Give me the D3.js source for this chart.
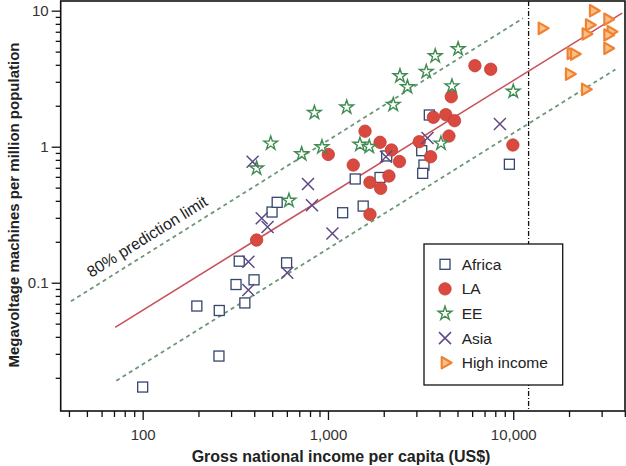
<!DOCTYPE html>
<html>
<head>
<meta charset="utf-8">
<script src="https://cdnjs.cloudflare.com/ajax/libs/d3/7.8.5/d3.min.js"></script>
<style>
  body { margin: 0; background: #fff; }
  svg { display: block; font-family: "Liberation Sans", Arial, sans-serif; }
</style>
</head>
<body>
<div id="chart"></div>
<script>
// series values: [GNI per capita (US$), machines per million]
var africa = [[100,0.0171],[196,0.0674],[258,0.0289],[259,0.0625],[319,0.097],[332,0.144],[356,0.071],
  [399,0.105],[598,0.140],[499,0.331],[532,0.390],[1200,0.327],[1549,0.366],[1403,0.579],[1910,0.594],
  [2075,0.855],[3524,1.71],[3206,0.935],[3297,0.733],[3245,0.637],[9530,0.743]];
var la = [[412,0.206],[1004,0.877],[1369,0.733],[1585,1.30],[1685,0.547],[1925,0.494],[2133,0.609],
  [1910,1.077],[2201,0.946],[2432,0.778],[1685,0.318],[3110,1.088],[3582,0.844],[3707,1.645],
  [4325,1.719],[4820,1.553],[4497,1.198],[4628,2.33],[6209,3.94],[7557,3.71],[9955,1.029]];
var ee = [[412,0.694],[491,1.059],[616,0.402],[721,0.884],[845,1.778],[928,0.995],[1262,1.949],
  [1488,1.038],[1671,1.0],[2251,2.036],[2447,3.31],[2685,2.75],[3393,3.56],[3793,4.64],[5041,5.23],
  [4668,2.79],[4074,1.059],[10000,2.55]];
var asia = [[372,0.1427],[372,0.0884],[392,0.776],[439,0.2975],[472,0.257],[603,0.1184],[780,0.532],
  [820,0.371],[1057,0.230],[2056,0.844],[3444,1.159],[8472,1.469]];
var highIncome = [[27020,10.0],[14290,7.42],[25700,7.85],[24660,6.74],[32310,8.65],[33660,7.01],
  [32310,6.63],[32310,5.29],[20470,4.86],[21330,4.80],[20050,3.42],[24470,2.64]];

var categories = ['Africa', 'LA', 'EE', 'Asia', 'High income'];

// fitted line and 80% prediction limits (end points)
var fitLine = [[71, 0.047], [38700, 9.6]];
var upperLimit = [[41, 0.073], [11300, 8.8]];
var lowerLimit = [[72, 0.019], [35600, 3.7]];
var thresholdGNI = 12100;

var xTickLabels = [100, 1000, 10000];
var yTickLabels = [0.1, 1, 10];

var W = 626, H = 466;
var plotLeft = 60.7, plotRight = 625, plotTop = 1, plotBottom = 411;

var svg = d3.select('#chart').append('svg')
  .attr('width', W)
  .attr('height', H);

var x = d3.scaleLog().domain([36.1, 40100]).range([plotLeft, plotRight]);
var y = d3.scaleLog().domain([0.0114, 11.78]).range([plotBottom, plotTop]);

var line = d3.line()
  .x(function(d) { return x(d[0]); })
  .y(function(d) { return y(d[1]); });

// axes
var xMinor = x.ticks().filter(function(v) { return xTickLabels.indexOf(v) < 0; });
var yMinor = y.ticks().filter(function(v) { return yTickLabels.indexOf(+v.toPrecision(3)) < 0; });

svg.append('g')
  .attr('transform', 'translate(0,' + plotBottom + ')')
  .call(d3.axisBottom(x).tickValues(xMinor).tickSize(6).tickFormat(''))
  .call(function(g) { g.select('.domain').remove(); });

svg.append('g')
  .attr('transform', 'translate(0,' + plotBottom + ')')
  .call(d3.axisBottom(x).tickValues(xTickLabels).tickSize(9).tickPadding(9).tickFormat(d3.format(',')))
  .call(function(g) {
    g.select('.domain').remove();
    g.selectAll('text').attr('font-size', 15).attr('fill', '#333').attr('font-family', null);
  });

svg.append('g')
  .attr('transform', 'translate(' + plotLeft + ',0)')
  .call(d3.axisLeft(y).tickValues(yMinor).tickSize(5).tickFormat(''))
  .call(function(g) { g.select('.domain').remove(); });

svg.append('g')
  .attr('transform', 'translate(' + plotLeft + ',0)')
  .call(d3.axisLeft(y).tickValues(yTickLabels).tickSize(9).tickPadding(3).tickFormat(d3.format('')))
  .call(function(g) {
    g.select('.domain').remove();
    g.selectAll('text').attr('font-size', 15).attr('fill', '#333').attr('font-family', null);
  });

svg.selectAll('.tick line').attr('stroke', '#111').attr('stroke-width', 1.3);

// frame
svg.append('rect')
  .attr('x', plotLeft).attr('y', plotTop)
  .attr('width', plotRight - plotLeft).attr('height', plotBottom - plotTop)
  .attr('fill', 'none')
  .attr('stroke', '#111')
  .attr('stroke-width', 1.6);

// axis titles
svg.append('text')
  .attr('x', 341).attr('y', 462)
  .attr('text-anchor', 'middle')
  .attr('font-size', 16).attr('font-weight', 'bold').attr('fill', '#222')
  .text('Gross national income per capita (US$)');

svg.append('text')
  .attr('transform', 'translate(19,205) rotate(-90)')
  .attr('text-anchor', 'middle')
  .attr('font-size', 15).attr('font-weight', 'bold').attr('fill', '#222')
  .text('Megavoltage machines per million population');

// threshold line
svg.append('line')
  .attr('x1', x(thresholdGNI)).attr('x2', x(thresholdGNI))
  .attr('y1', plotTop).attr('y2', plotBottom)
  .attr('stroke', '#111')
  .attr('stroke-width', 1.3)
  .attr('stroke-dasharray', '5,2,1,2');

// limits and fit
[upperLimit, lowerLimit].forEach(function(l) {
  svg.append('path')
    .datum(l)
    .attr('d', line)
    .attr('fill', 'none')
    .attr('stroke', '#6c9878')
    .attr('stroke-width', 1.8)
    .attr('stroke-dasharray', '4,3.5');
});

svg.append('path')
  .datum(fitLine)
  .attr('d', line)
  .attr('fill', 'none')
  .attr('stroke', '#c8525c')
  .attr('stroke-width', 1.6);

// label along the upper limit
var p0 = [x(upperLimit[0][0]), y(upperLimit[0][1])],
    p1 = [x(upperLimit[1][0]), y(upperLimit[1][1])];
var angle = Math.atan2(p1[1] - p0[1], p1[0] - p0[0]) * 180 / Math.PI;
var lx = x(56);
var ly = p0[1] + (lx - p0[0]) * (p1[1] - p0[1]) / (p1[0] - p0[0]);
svg.append('text')
  .attr('transform', 'translate(' + lx + ',' + ly + ') rotate(' + angle + ')')
  .attr('y', -9)
  .attr('font-size', 16).attr('fill', '#222')
  .text('80% prediction limit');

// markers
var styles = {
  'Africa': function(g) {
    g.append('rect').attr('x', -5).attr('y', -5).attr('width', 10).attr('height', 10)
      .attr('fill', '#fff').attr('stroke', '#34466c').attr('stroke-width', 1.3);
  },
  'LA': function(g) {
    g.append('circle').attr('r', 6.2)
      .attr('fill', '#d9493f').attr('stroke', '#c23c33').attr('stroke-width', 0.8);
  },
  'EE': function(g) {
    g.append('path').attr('d', d3.symbol().type(d3.symbolStar).size(58)())
      .attr('fill', '#fff').attr('fill-opacity', 0.6).attr('stroke', '#3f8c50').attr('stroke-width', 1.4);
  },
  'Asia': function(g) {
    g.append('path').attr('d', 'M-6,-6L6,6M-6,6L6,-6')
      .attr('fill', 'none').attr('stroke', '#5d4a84').attr('stroke-width', 1.5);
  },
  'High income': function(g) {
    g.append('path').attr('d', d3.symbol().type(d3.symbolTriangle).size(56)())
      .attr('transform', 'rotate(90)')
      .attr('fill', '#f9c08a').attr('stroke', '#ef8332').attr('stroke-width', 2.2)
      .attr('stroke-linejoin', 'round');
  }
};

var series = [africa, la, ee, asia, highIncome];

series.forEach(function(s, i) {
  svg.append('g').selectAll('g')
    .data(s)
    .enter().append('g')
    .attr('transform', function(d) { return 'translate(' + x(d[0]) + ',' + y(d[1]) + ')'; })
    .each(function() { styles[categories[i]](d3.select(this)); });
});

// legend
var legend = svg.append('g').attr('transform', 'translate(424,244)');
legend.append('rect')
  .attr('width', 138.7).attr('height', 141)
  .attr('fill', '#fff')
  .attr('stroke', '#111')
  .attr('stroke-width', 1.3);

var item = legend.selectAll('.item')
  .data(categories)
  .enter().append('g')
  .attr('class', 'item')
  .attr('transform', function(d, i) { return 'translate(21,' + (20.3 + i * 24.6) + ')'; });

item.each(function(d) { styles[d](d3.select(this)); });

item.append('text')
  .attr('x', 16.7).attr('dy', '0.35em')
  .attr('font-size', 15.5).attr('fill', '#222')
  .text(function(d) { return d; });
</script>
</body>
</html>
